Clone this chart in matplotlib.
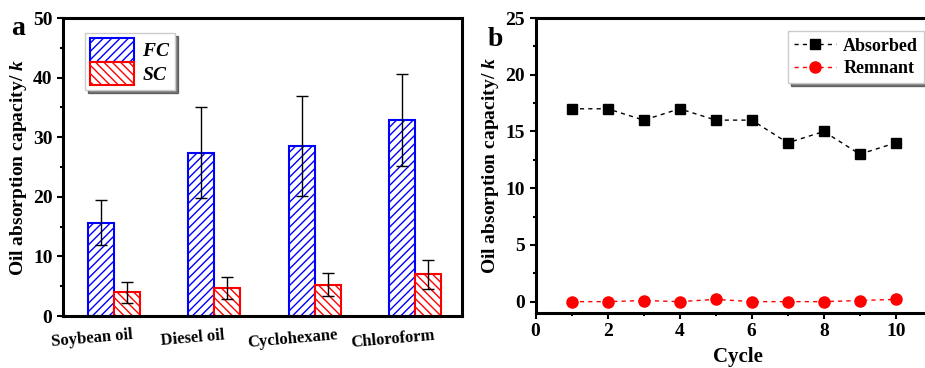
import numpy as np
import matplotlib
matplotlib.use('Agg')
import matplotlib.pyplot as plt
from matplotlib.ticker import MultipleLocator

plt.rcParams['font.family'] = 'Liberation Serif'
plt.rcParams['font.weight'] = 'bold'
plt.rcParams['axes.labelweight'] = 'bold'
plt.rcParams['mathtext.fontset'] = 'custom'
plt.rcParams['mathtext.it'] = 'Liberation Serif:italic:bold'
plt.rcParams['mathtext.rm'] = 'Liberation Serif:bold'
plt.rcParams['hatch.linewidth'] = 1.0

# panel a data
solvents = ['Soybean oil', 'Diesel oil', 'Cyclohexane', 'Chloroform']
fc = [15.7, 27.4, 28.6, 32.9]
fc_err = [3.8, 7.6, 8.4, 7.7]
sc = [4.0, 4.7, 5.3, 7.0]
sc_err = [1.8, 1.8, 1.9, 2.4]

# panel b data
cycles = [1, 2, 3, 4, 5, 6, 7, 8, 9, 10]
absorbed = [17, 17, 16, 17, 16, 16, 14, 15, 13, 14]
remnant = [0, 0, 0.1, 0, 0.2, 0, 0, 0, 0.1, 0.2]

fig = plt.figure(figsize=(9.25, 3.68), dpi=100)
ax1 = fig.add_axes([0.068, 0.141, 0.4315, 0.81])
ax2 = fig.add_axes([0.579, 0.1495, 0.437, 0.8015])

ylab = r'Oil absorption capacity/ $k$'

# ---- panel a
x = np.arange(1, len(solvents) + 1)
w = 0.26
ax1.bar(x - w / 2, fc, w, facecolor='white', edgecolor='blue', hatch='////',
        linewidth=1.5, label='$FC$', zorder=2)
ax1.bar(x + w / 2, sc, w, facecolor='white', edgecolor='red', hatch='\\\\\\\\',
        linewidth=1.5, label='$SC$', zorder=2)
ax1.errorbar(x - w / 2, fc, yerr=fc_err, fmt='none', ecolor='black', elinewidth=1,
             capsize=4, capthick=1, zorder=3)
ax1.errorbar(x + w / 2, sc, yerr=sc_err, fmt='none', ecolor='black', elinewidth=1,
             capsize=4, capthick=1, zorder=3)
ax1.set_xlim(0.49, 4.47)
ax1.set_ylim(0, 50)
ax1.set_xticks(x - 0.22)
ax1.set_xticklabels(solvents, rotation=5, fontsize=12)
ax1.tick_params(axis='x', length=0, pad=8)
ax1.yaxis.set_major_locator(MultipleLocator(10))
ax1.yaxis.set_minor_locator(MultipleLocator(5))
ax1.tick_params(axis='y', which='major', length=4, width=1.5, labelsize=14)
ax1.tick_params(axis='y', which='minor', length=2.5, width=1.5)
ax1.set_ylabel(ylab, fontsize=14, labelpad=3)
leg1 = ax1.legend(loc='upper left', bbox_to_anchor=(0.055, 0.95), borderaxespad=0,
                  fontsize=14, handlelength=2.3, handleheight=1.5, labelspacing=0,
                  handletextpad=0.4, borderpad=0.25, fancybox=False,
                  shadow={'color': 'black'}, framealpha=1)
leg1.get_frame().set_edgecolor('#cccccc')
for s in ax1.spines.values():
    s.set_linewidth(2.2)
fig.text(0.012, 0.905, 'a', fontsize=20, fontweight='bold')

# ---- panel b
ax2.plot(cycles, absorbed, linestyle=(0, (3, 3)), color='black', linewidth=1,
         marker='s', markersize=7, label='Absorbed')
ax2.plot(cycles, remnant, linestyle=(0, (3, 3)), color='red', linewidth=1,
         marker='o', markersize=8, label='Remnant')
ax2.set_xlim(0, 11.22)
ax2.set_ylim(-1, 25)
ax2.xaxis.set_major_locator(MultipleLocator(2))
ax2.xaxis.set_minor_locator(MultipleLocator(1))
ax2.yaxis.set_major_locator(MultipleLocator(5))
ax2.yaxis.set_minor_locator(MultipleLocator(2.5))
ax2.tick_params(which='major', length=4, width=1.5, labelsize=14)
ax2.tick_params(which='minor', length=2.5, width=1.5)
ax2.set_ylabel(ylab, fontsize=14, labelpad=3)
ax2.set_xlabel('Cycle', fontsize=15, labelpad=5)
leg2 = ax2.legend(loc='upper right', bbox_to_anchor=(0.962, 0.955), borderaxespad=0,
                  fontsize=13, handlelength=2.3, labelspacing=0.3, handletextpad=0.4,
                  borderpad=0.35, fancybox=False, shadow={'color': 'black'},
                  framealpha=1)
leg2.get_frame().set_edgecolor('#cccccc')
for s in ax2.spines.values():
    s.set_linewidth(2.2)
fig.text(0.527, 0.875, 'b', fontsize=20, fontweight='bold')

fig.savefig('out.png', dpi=100)
